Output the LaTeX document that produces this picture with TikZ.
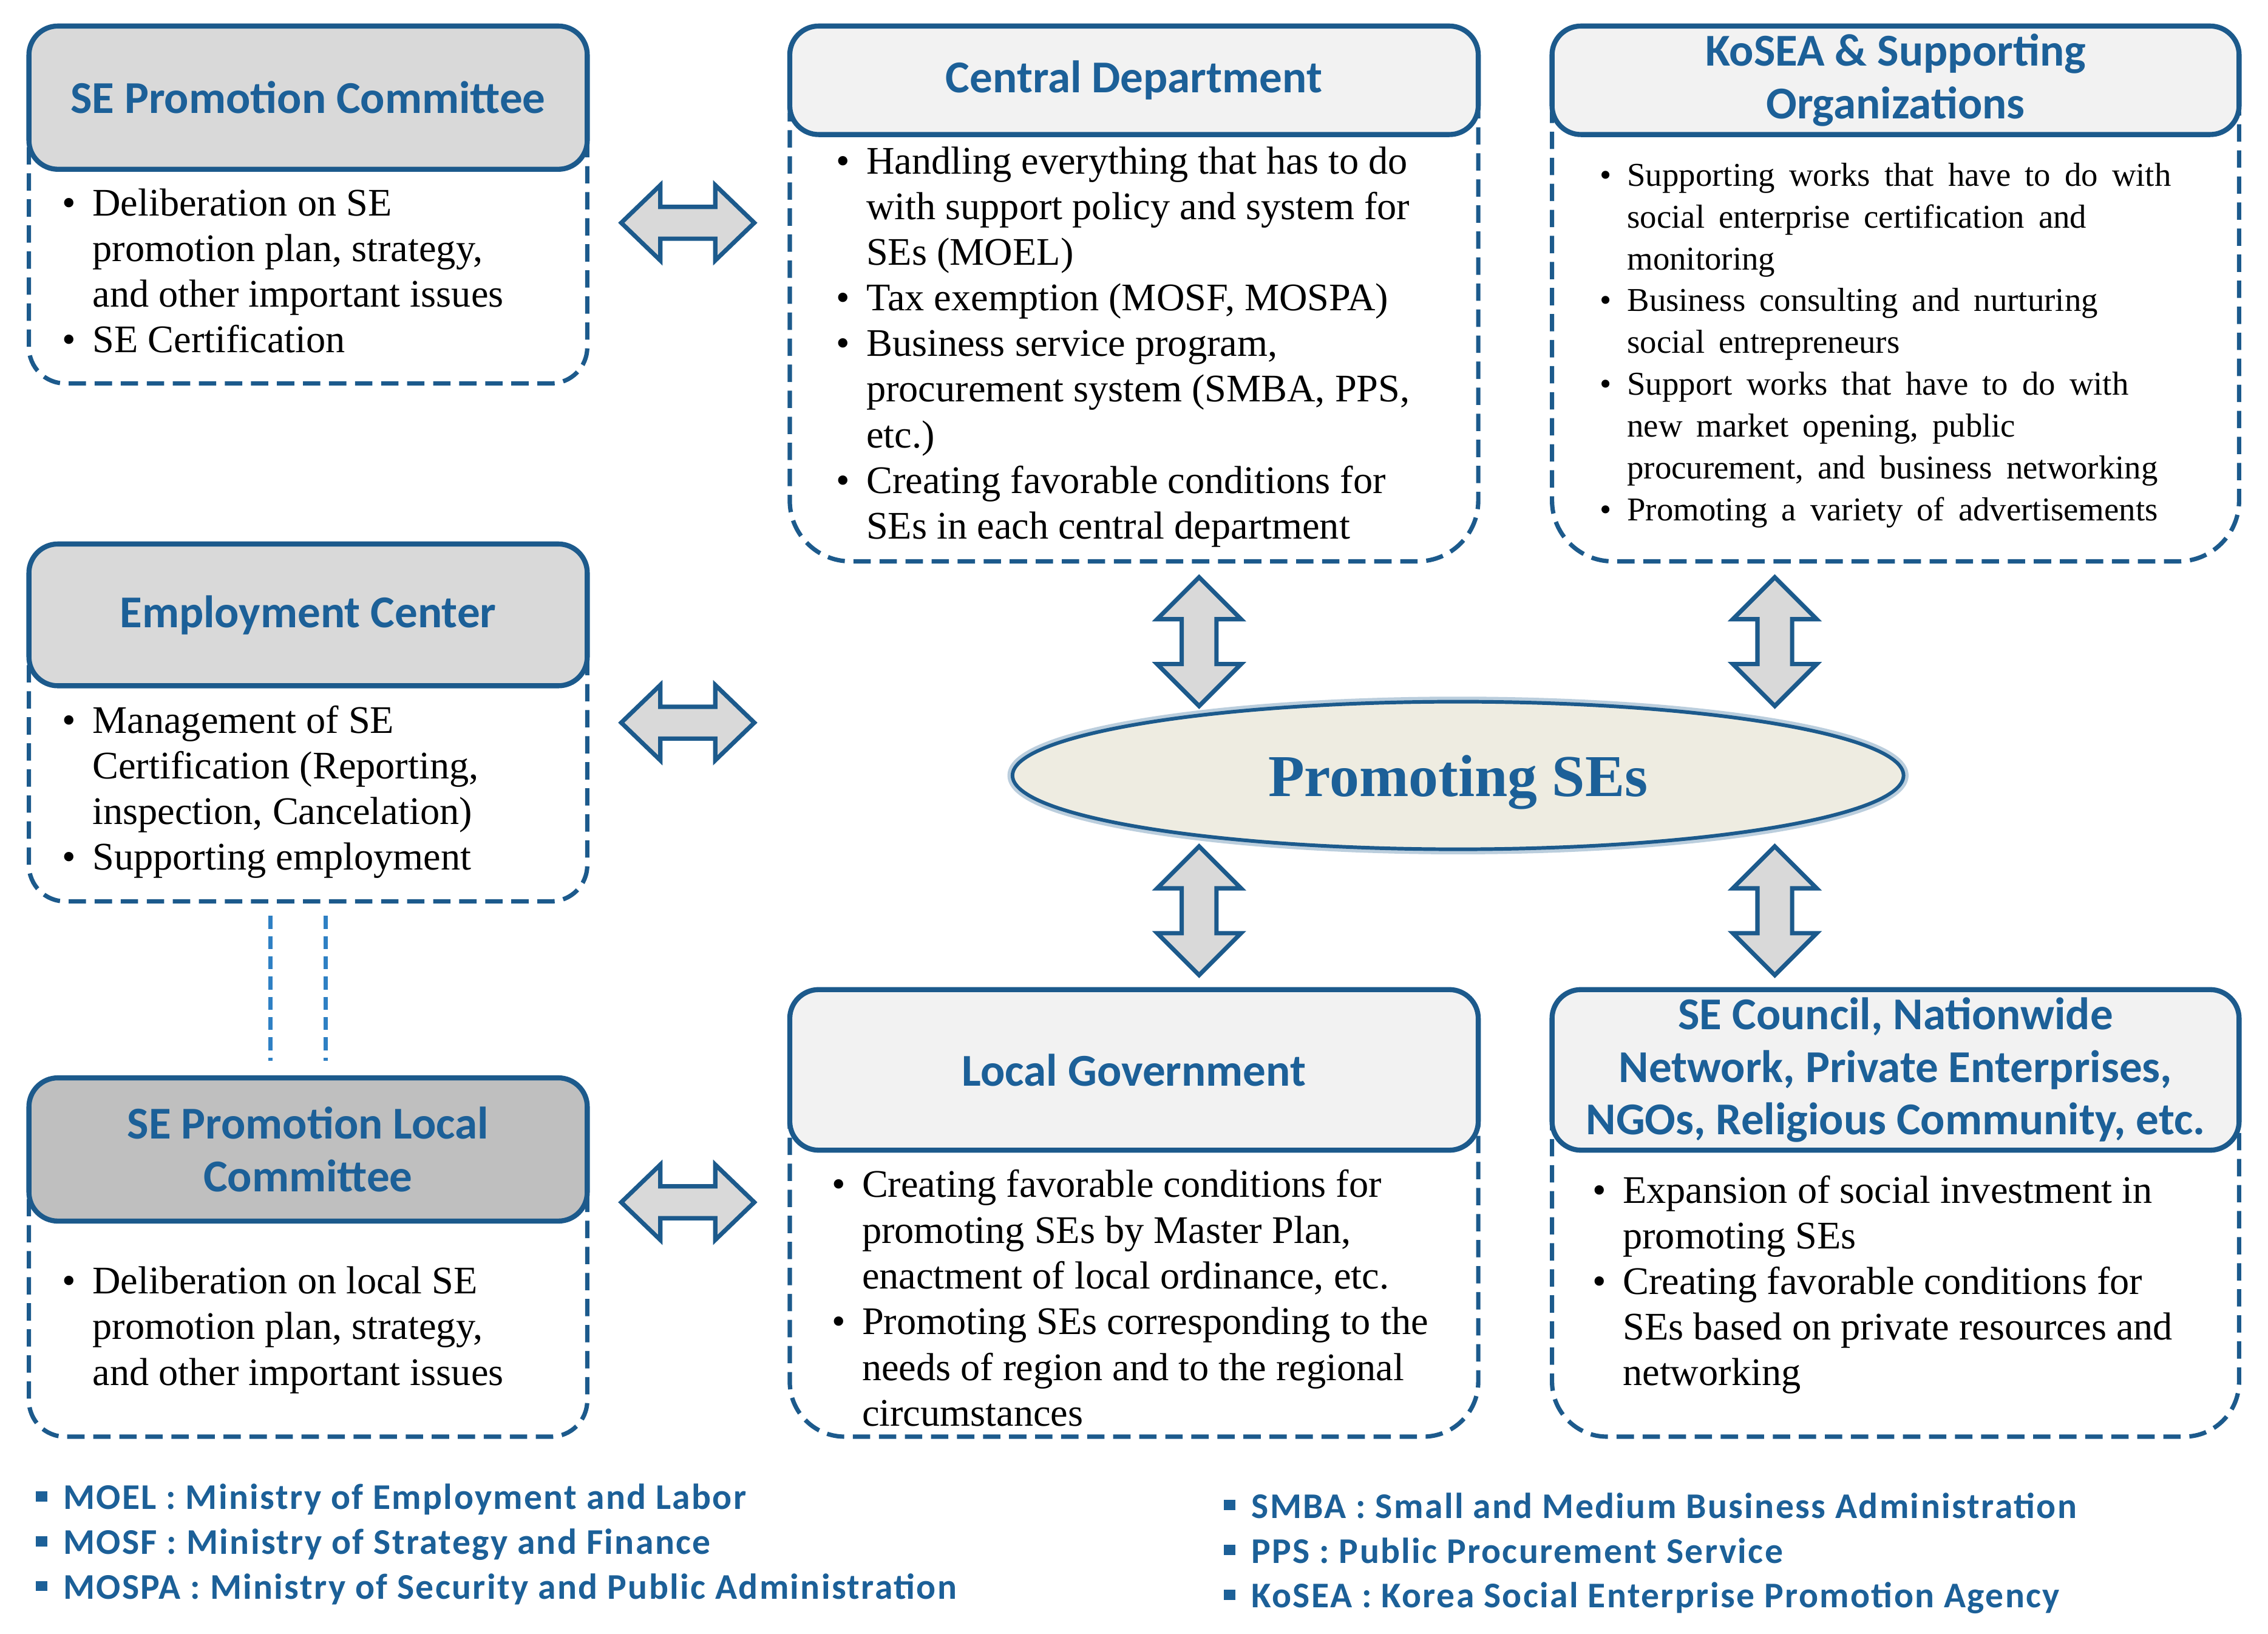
\documentclass[tikz,border=0pt]{standalone}
\usepackage{fontspec}
\setmainfont{Liberation Serif}
\newfontfamily\carlito{Carlito}
\newfontfamily\carlitosp{Carlito}[LetterSpace=4]
\usetikzlibrary{shapes.geometric}
\definecolor{bblue}{RGB}{28,90,140}
\definecolor{tblue}{RGB}{28,96,152}
\definecolor{lblue}{RGB}{46,128,196}
\definecolor{gA}{RGB}{217,217,217}
\definecolor{gB}{RGB}{191,191,191}
\definecolor{gC}{RGB}{242,242,242}
\definecolor{cream}{RGB}{238,236,225}
\newcommand\bli[1][21pt]{\makebox[#1][l]{\textbullet}}
\newcommand\cli[1][21pt]{\hspace*{#1}}
\newcommand\fnb{\raisebox{5.5pt}{\rule{8pt}{7pt}}\hspace{11pt}}
\newcommand\kofont{\fontsize{23}{28.9}\selectfont\spaceskip=0.42em plus 0.1em\relax}
\newcommand\harr[1]{\draw[barrow] ([shift={(-46pt,0pt)}]#1) -- ++(27pt,-26pt) -- ++(0pt,15pt) -- ++(38pt,0pt) -- ++(0pt,-15pt) -- ++(27pt,26pt) -- ++(-27pt,26pt) -- ++(0pt,-15pt) -- ++(-38pt,0pt) -- ++(0pt,15pt) -- cycle;}
\newcommand\varr[1]{\draw[barrow] ([shift={(0pt,44.5pt)}]#1) -- ++(-29pt,-29pt) -- ++(17pt,0pt) -- ++(0pt,-31pt) -- ++(-17pt,0pt) -- ++(29pt,-29pt) -- ++(29pt,29pt) -- ++(-17pt,0pt) -- ++(0pt,31pt) -- ++(17pt,0pt) -- cycle;}
\tikzset{
  titleband/.style={draw=bblue, line width=3.5pt, rounded corners=20pt, inner sep=0pt, outer sep=0pt, align=center, text=tblue, font=\carlito\bfseries\fontsize{31.5}{36.5}\selectfont},
  bodyframe/.style={draw=bblue, line width=3pt, dash pattern=on 12pt off 6pt, inner sep=0pt, outer sep=0pt, fill=white},
  bodytext/.style={inner sep=0pt, outer sep=0pt, anchor=north west, align=left, font=\fontsize{27}{31.5}\selectfont},
  barrow/.style={draw=bblue, fill=gA, line width=3pt, line join=miter},
  abbrev/.style={inner sep=0pt, anchor=mid west, text=tblue, font=\carlitosp\bfseries\fontsize{25}{30}\selectfont},
  linkline/.style={draw=lblue, line width=3pt, dash pattern=on 9pt off 5pt},
}
\begin{document}
\begin{tikzpicture}[x=1pt,y=-1pt]
\fill[white] (0,0) rectangle (1568,1129);
\useasboundingbox (0,0) rectangle (1568,1129);

% frames (dashed bodies)
\node[bodyframe, rounded corners=25pt, minimum width=386pt, minimum height=227pt] (pcframe) at (213,151.5) {};
\node[bodyframe, rounded corners=25pt, minimum width=386pt, minimum height=227pt] (ecframe) at (213,509.5) {};
\node[bodyframe, rounded corners=25pt, minimum width=386pt, minimum height=228pt] (lcframe) at (213,879) {};
\node[bodyframe, rounded corners=42pt, minimum width=476pt, minimum height=350pt] (cdframe) at (784,213) {};
\node[bodyframe, rounded corners=42pt, minimum width=475pt, minimum height=350pt] (koframe) at (1310.5,213) {};
\node[bodyframe, rounded corners=38pt, minimum width=476pt, minimum height=289pt] (lgframe) at (784,848.5) {};
\node[bodyframe, rounded corners=38pt, minimum width=475pt, minimum height=289pt] (scframe) at (1310.5,848.5) {};

% title bands
\node[titleband, fill=gA, minimum width=386pt, minimum height=99pt] (pctitle) at (213,67.5) {SE Promotion Committee};
\node[titleband, fill=gA, minimum width=386pt, minimum height=98pt] (ectitle) at (213,425) {Employment Center};
\node[titleband, fill=gB, minimum width=386pt, minimum height=99pt] (lctitle) at (213,794.5) {SE Promotion Local\\Committee};
\node[titleband, fill=gC, minimum width=476pt, minimum height=75pt] (cdtitle) at (784,55.5) {Central Department};
\node[titleband, fill=gC, minimum width=475pt, minimum height=75pt] (kotitle) at (1310.5,55.5) {KoSEA \& Supporting\\Organizations};
\node[titleband, fill=gC, minimum width=476pt, minimum height=111pt] (lgtitle) at (784,739.5) {Local Government};
\node[titleband, fill=gC, minimum width=475pt, minimum height=111pt] (sctitle) at (1310.5,739.5) {SE Council, Nationwide\\Network, Private Enterprises,\\NGOs, Religious Community, etc.};

% body texts
\node[bodytext] (pctext) at (43,130.6) {\bli Deliberation on SE\\
\cli promotion plan, strategy,\\
\cli and other important issues\\
\bli SE Certification};
\node[bodytext] (ectext) at (43,487.6) {\bli Management of SE\\
\cli Certification (Reporting,\\
\cli inspection, Cancelation)\\
\bli Supporting employment};
\node[bodytext] (lctext) at (43,875.6) {\bli Deliberation on local SE\\
\cli promotion plan, strategy,\\
\cli and other important issues};
\node[bodytext] (cdtext) at (578,101.6) {\bli Handling everything that has to do\\
\cli with support policy and system for\\
\cli SEs (MOEL)\\
\bli Tax exemption (MOSF, MOSPA)\\
\bli Business service program,\\
\cli procurement system (SMBA, PPS,\\
\cli etc.)\\
\bli Creating favorable conditions for\\
\cli SEs in each central department};
\node[bodytext, font=\kofont] (kotext) at (1106,112.6) {\bli[19pt]Supporting works that have to do with\\
\cli[19pt]social enterprise certification and\\
\cli[19pt]monitoring\\
\bli[19pt]Business consulting and nurturing\\
\cli[19pt]social entrepreneurs\\
\bli[19pt]Support works that have to do with\\
\cli[19pt]new market opening, public\\
\cli[19pt]procurement, and business networking\\
\bli[19pt]Promoting a variety of advertisements};
\node[bodytext, font=\fontsize{27}{31.6}\selectfont] (lgtext) at (575,808.6) {\bli Creating favorable conditions for\\
\cli promoting SEs by Master Plan,\\
\cli enactment of local ordinance, etc.\\
\bli Promoting SEs corresponding to the\\
\cli needs of region and to the regional\\
\cli circumstances};
\node[bodytext] (sctext) at (1101,812.6) {\bli Expansion of social investment in\\
\cli promoting SEs\\
\bli Creating favorable conditions for\\
\cli SEs based on private resources and\\
\cli networking};

% link between employment center and local committee
\draw[linkline] ([xshift=-26pt,yshift=-10pt]ecframe.south) -- ([xshift=-26pt,yshift=12pt]lctitle.north);
\draw[linkline] ([xshift=12pt,yshift=-10pt]ecframe.south) -- ([xshift=12pt,yshift=12pt]lctitle.north);

% block arrows
\coordinate (ha1) at (475.5,154);
\coordinate (ha2) at (475.5,499.5);
\coordinate (ha3) at (475.5,831);
\coordinate (va1) at (829,443.5);
\coordinate (va2) at (1227,443.5);
\coordinate (va3) at (829,629.5);
\coordinate (va4) at (1227,629.5);
\harr{ha1}\harr{ha2}\harr{ha3}
\varr{va1}\varr{va2}\varr{va3}\varr{va4}

% central ellipse
\draw[bblue!30, line width=7pt] (1008,536) ellipse [x radius=308pt, y radius=51pt];
\node[ellipse, draw=bblue, line width=2.5pt, fill=cream, minimum width=616pt, minimum height=102pt, inner sep=0pt, text height=38pt, text depth=9pt, text=tblue, font=\bfseries\fontsize{41}{45}\selectfont] (prom) at (1008,536) {Promoting SEs};

% abbreviations
\node[abbrev] (fn1) at (24.5,1041) {\fnb MOEL : Ministry of Employment and Labor};
\node[abbrev] (fn2) at (24.5,1072) {\fnb MOSF : Ministry of Strategy and Finance};
\node[abbrev] (fn3) at (24.5,1103) {\fnb MOSPA : Ministry of Security and Public Administration};
\node[abbrev] (fn4) at (846,1047) {\fnb SMBA : Small and Medium Business Administration};
\node[abbrev] (fn5) at (846,1078) {\fnb PPS : Public Procurement Service};
\node[abbrev] (fn6) at (846,1109) {\fnb KoSEA : Korea Social Enterprise Promotion Agency};
\end{tikzpicture}
\end{document}
